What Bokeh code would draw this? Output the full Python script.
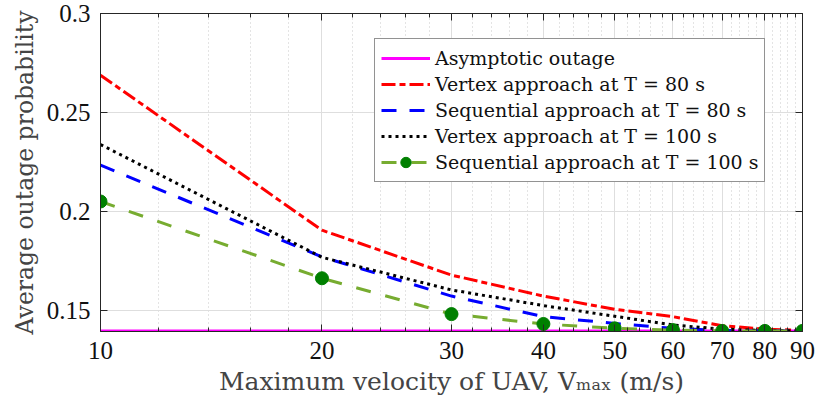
from bokeh.plotting import figure
from bokeh.models import (FixedTicker, LogAxis, LinearAxis, Legend, LegendItem,
                          Range1d, BasicTickFormatter, CustomJSTickFormatter)
from bokeh.embed import file_html
from bokeh.resources import INLINE

# ---------------- data ----------------
vmax = [10, 20, 30, 40, 50, 60, 70, 80, 90]
asymptotic = [0.1395, 0.1395, 0.1395, 0.1395, 0.1395, 0.1395, 0.1395, 0.1395, 0.1395]
vertex_80 = [0.2688, 0.1905, 0.1678, 0.1572, 0.1505, 0.1468, 0.1422, 0.1405, 0.1398]
seq_80 = [0.2234, 0.1770, 0.1572, 0.1468, 0.1434, 0.1409, 0.1398, 0.1396, 0.1396]
vertex_100 = [0.2338, 0.1768, 0.1603, 0.1524, 0.1470, 0.1426, 0.1405, 0.1398, 0.1396]
seq_100 = [0.2050, 0.1662, 0.1481, 0.1431, 0.1409, 0.1400, 0.1396, 0.1396, 0.1396]

x_ticks = [10, 20, 30, 40, 50, 60, 70, 80, 90]
x_tick_labels = ["10", "20", "30", "40", "50", "60", "70", "80", "90"]
x_minor = [v + d for v in x_ticks[:-1] for d in (2, 4, 6, 8)]
y_ticks = [0.15, 0.2, 0.25, 0.3]
y_tick_labels = ["0.15", "0.2", "0.25", "0.3"]

labels = ["Asymptotic outage",
          "Vertex approach at T = 80 s",
          "Sequential approach at T = 80 s",
          "Vertex approach at T = 100 s",
          "Sequential approach at T = 100 s"]

TICK_FONT = "Liberation Serif"
TEXT_FONT = "DejaVu Serif"
AX_COLOR = "#262626"

p = figure(width=816, height=407, x_axis_type="log",
           x_range=Range1d(10, 90), y_range=Range1d(0.1393, 0.3),
           output_backend="svg", toolbar_location=None,
           min_border_left=100, min_border_right=14,
           min_border_top=13, min_border_bottom=76)
p.outline_line_color = AX_COLOR
p.background_fill_color = "white"
p.border_fill_color = "white"

# ---------------- lines ----------------
r_asym = p.line(vmax, asymptotic, line_color="#FF00FF", line_width=3)
r_v80 = p.line(vmax, vertex_80, line_color="#FF0000", line_width=3,
               line_dash="14 4 6 4")
r_s80 = p.line(vmax, seq_80, line_color="#0000FF", line_width=3,
               line_dash="15 13")
r_v100 = p.line(vmax, vertex_100, line_color="black", line_width=3,
                line_dash="3 4")
r_s100 = p.line(vmax, seq_100, line_color="#77AC30", line_width=3,
                line_dash="15 15")
r_s100m = p.scatter(vmax, seq_100, marker="circle", size=13,
                    fill_color="#008000", line_color="#008000")

# ---------------- axes ----------------
xticker = FixedTicker(ticks=x_ticks, minor_ticks=x_minor)
yticker = FixedTicker(ticks=y_ticks, minor_ticks=[])

def style_axis(ax, size="25px"):
    ax.axis_line_color = AX_COLOR
    ax.axis_line_width = 1
    ax.major_tick_line_color = AX_COLOR
    ax.minor_tick_line_color = AX_COLOR
    ax.major_tick_in = 7
    ax.major_tick_out = 0
    ax.minor_tick_in = 4
    ax.minor_tick_out = 0
    ax.major_label_text_font = TICK_FONT
    ax.major_label_text_color = "#111111"
    ax.major_label_text_font_size = size

xa = p.xaxis[0]
xa.ticker = xticker
xa.formatter = BasicTickFormatter()
xa.major_label_overrides = dict(zip(x_ticks, x_tick_labels))
style_axis(xa)
xa.major_label_standoff = 10
xa.axis_label = "Maximum velocity of UAV, Vₘₐₓ (m/s)"
xa.axis_label_text_font = TEXT_FONT
xa.axis_label_text_font_size = "25px"
xa.axis_label_text_font_style = "normal"
xa.axis_label_standoff = 5

ya = p.yaxis[0]
ya.ticker = yticker
ya.major_label_overrides = dict(zip(y_ticks, y_tick_labels))
style_axis(ya)
ya.major_label_standoff = 10
ya.axis_label = "Average outage probability"
ya.axis_label_text_font = TEXT_FONT
ya.axis_label_text_font_size = "23.5px"
ya.axis_label_text_font_style = "normal"
ya.axis_label_standoff = 5

blank = CustomJSTickFormatter(code="return '';")
top = LogAxis(ticker=xticker, formatter=blank)
style_axis(top, "8px")
top.major_label_standoff = 0
p.add_layout(top, "above")
right = LinearAxis(ticker=yticker, formatter=blank)
style_axis(right, "8px")
right.major_label_standoff = 0
p.add_layout(right, "right")

# ---------------- grids ----------------
p.xgrid.ticker = xticker
p.ygrid.ticker = yticker
p.xgrid.grid_line_color = "#dedede"
p.ygrid.grid_line_color = "#dedede"
p.xgrid.grid_line_width = 1
p.ygrid.grid_line_width = 1
p.xgrid.minor_grid_line_color = "#c8c8c8"
p.xgrid.minor_grid_line_dash = "1 3"
p.xgrid.minor_grid_line_width = 1

# ---------------- legend ----------------
items = [LegendItem(label=labels[0], renderers=[r_asym]),
         LegendItem(label=labels[1], renderers=[r_v80]),
         LegendItem(label=labels[2], renderers=[r_s80]),
         LegendItem(label=labels[3], renderers=[r_v100]),
         LegendItem(label=labels[4], renderers=[r_s100, r_s100m])]
legend = Legend(items=items, location=(274, 149))
legend.label_text_font = TEXT_FONT
legend.label_text_font_size = "19px"
legend.label_text_color = "#111111"
legend.glyph_width = 49
legend.glyph_height = 26
legend.label_height = 26
legend.label_standoff = 5
legend.spacing = 0
legend.padding = 6
legend.margin = 0
legend.border_line_color = AX_COLOR
legend.border_line_width = 1
legend.background_fill_color = "white"
legend.background_fill_alpha = 1.0
p.add_layout(legend, "center")

open("out.html", "w").write(file_html(p, INLINE))
